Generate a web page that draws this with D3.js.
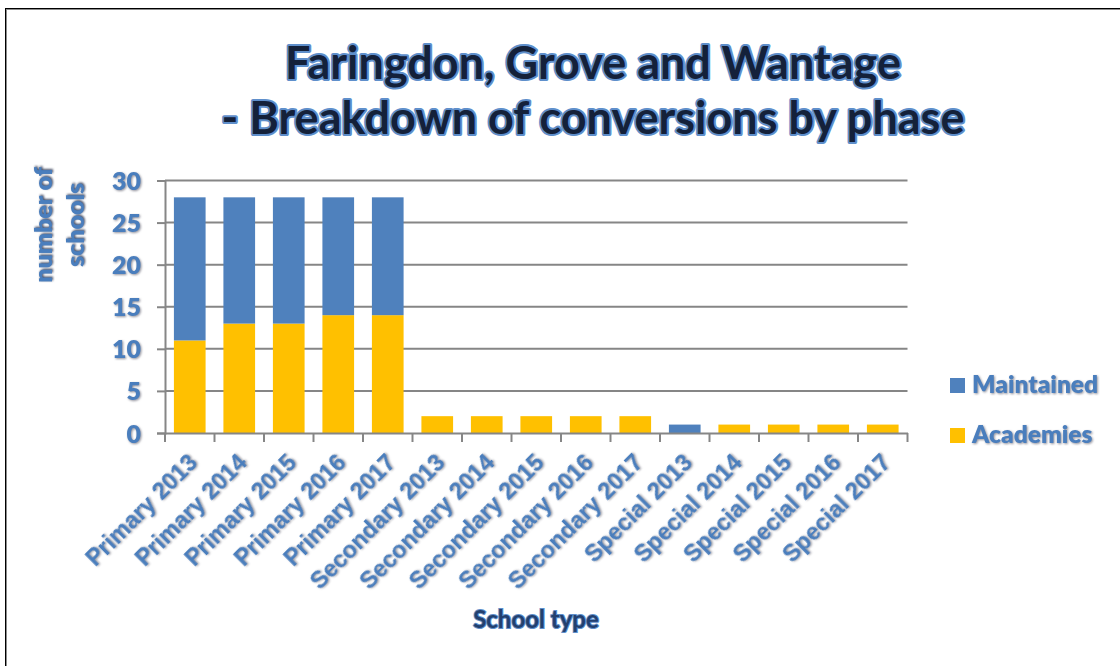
<!DOCTYPE html>
<html><head><meta charset="utf-8">
<script src="https://cdn.jsdelivr.net/npm/d3@7"></script>
<style>
html,body{margin:0;padding:0;background:#fff;}
svg{display:block;font-family:Lato,"Open Sans",sans-serif;}
</style></head>
<body>
<svg id="c" width="1120" height="666"></svg>
<script>
const categories = ["Primary 2013","Primary 2014","Primary 2015","Primary 2016","Primary 2017",
  "Secondary 2013","Secondary 2014","Secondary 2015","Secondary 2016","Secondary 2017",
  "Special 2013","Special 2014","Special 2015","Special 2016","Special 2017"];
const academies = [11,13,13,14,14, 2,2,2,2,2, 0,1,1,1,1];
const maintained = [17,15,15,14,14, 0,0,0,0,0, 1,0,0,0,0];
const yTicks = [0,5,10,15,20,25,30];
const seriesNames = ["Maintained","Academies"];
const colors = {Maintained:"#4F81BD", Academies:"#FFC000"};

const svg = d3.select("#c");
const blue = "#4A7EBD";

// frame
svg.append("rect").attr("x",6).attr("y",9).attr("width",1120).attr("height",700)
  .attr("fill","none").attr("stroke","#8c8c8c").attr("stroke-width",2);
svg.append("line").attr("x1",5.5).attr("x2",5.5).attr("y1",8).attr("y2",666).attr("stroke","#000");
svg.append("line").attr("x1",5).attr("x2",1120).attr("y1",8.5).attr("y2",8.5).attr("stroke","#000");

const x = d3.scaleBand().domain(categories).range([165,907.5]).paddingInner(0.36).paddingOuter(0.18);
const y = d3.scaleLinear().domain([0,30]).range([433,180.5]);

const rows = categories.map((c,i)=>({cat:c, Academies:academies[i], Maintained:maintained[i]}));
const stack = d3.stack().keys(["Academies","Maintained"])(rows);

// gridlines
svg.append("g").selectAll("line").data(yTicks.filter(t=>t>0)).join("line")
  .attr("x1",165).attr("x2",907.5).attr("y1",d=>y(d)).attr("y2",d=>y(d))
  .attr("stroke","#868686").attr("stroke-width",2);

// bars
svg.append("g").selectAll("g").data(stack).join("g").attr("fill",d=>colors[d.key])
  .selectAll("rect").data(d=>d).join("rect")
  .attr("x",d=>x(d.data.cat)).attr("width",x.bandwidth())
  .attr("y",d=>y(d[1])).attr("height",d=>y(d[0])-y(d[1]));

// axes
const shadow = "drop-shadow(1px 1px 0.8px rgba(40,40,60,0.5))";
const yAxis = svg.append("g").attr("transform","translate(165,0)")
  .call(d3.axisLeft(y).tickValues(yTicks).tickSize(8).tickPadding(16));
yAxis.select(".domain").attr("stroke","#868686").attr("stroke-width",2);
yAxis.selectAll(".tick line").attr("stroke","#868686").attr("stroke-width",2);
yAxis.selectAll(".tick text").attr("fill",blue).attr("font-size",25).attr("font-weight",800)
  .attr("font-family","Lato").attr("dy","0.36em").style("filter",shadow);

const xTickPos = categories.map(c=>x(c)-x.step()*x.paddingInner()/2);
const xAxis = svg.append("g").attr("transform","translate(0,433)")
  .call(d3.axisBottom(x).tickSize(0).tickFormat(""));
xAxis.select(".domain").attr("stroke","#868686").attr("stroke-width",2);
xAxis.selectAll(".tick").remove();
xAxis.selectAll("line.t").data(xTickPos.concat([907.5])).join("line").attr("class","t")
  .attr("x1",d=>d).attr("x2",d=>d).attr("y1",0).attr("y2",9)
  .attr("stroke","#868686").attr("stroke-width",2);
xAxis.selectAll("text.l").data(categories).join("text").attr("class","l")
  .attr("transform",d=>`translate(${x(d)+x.bandwidth()/2+9},${31}) rotate(-45)`)
  .attr("text-anchor","end").attr("fill",blue).attr("font-size",23.5).attr("font-weight",800)
  .style("filter",shadow).text(d=>d);

// title
const title = svg.append("g").attr("font-size",45).attr("font-weight",700)
  .attr("text-anchor","middle");
["Faringdon, Grove and Wantage","- Breakdown of conversions by phase"].forEach((t,i)=>{
  title.append("text").attr("x",593).attr("y",79+i*55).text(t)
    .attr("fill","#14213a").attr("stroke","#5f8fcb").attr("stroke-width",4)
    .attr("paint-order","stroke").attr("stroke-linejoin","round");
});

// y title
const yt = svg.append("text").attr("transform","translate(0,225) rotate(-90)")
  .attr("text-anchor","middle").attr("font-size",25).attr("font-weight",800).attr("fill",blue)
  .style("filter","drop-shadow(1px 1px 1px rgba(20,30,60,0.8))");
yt.append("tspan").attr("x",0).attr("y",52).text("number of");
yt.append("tspan").attr("x",0).attr("y",84).text("schools");

// x title
svg.append("text").attr("x",536).attr("y",628).attr("text-anchor","middle")
  .attr("font-size",24).attr("font-weight",700).attr("fill","#23406e")
  .attr("stroke","#5f8fcb").attr("stroke-width",2).attr("paint-order","stroke").text("School type");

// legend
const lg = svg.append("g").selectAll("g").data(seriesNames).join("g")
  .attr("transform",(d,i)=>`translate(950,${378+i*50})`);
lg.append("rect").attr("width",15).attr("height",15).attr("fill",d=>colors[d]);
lg.append("text").attr("x",22).attr("y",15).attr("fill",blue).attr("font-size",24.5)
  .attr("font-weight",800).style("filter",shadow).text(d=>d);
</script>
</body></html>
